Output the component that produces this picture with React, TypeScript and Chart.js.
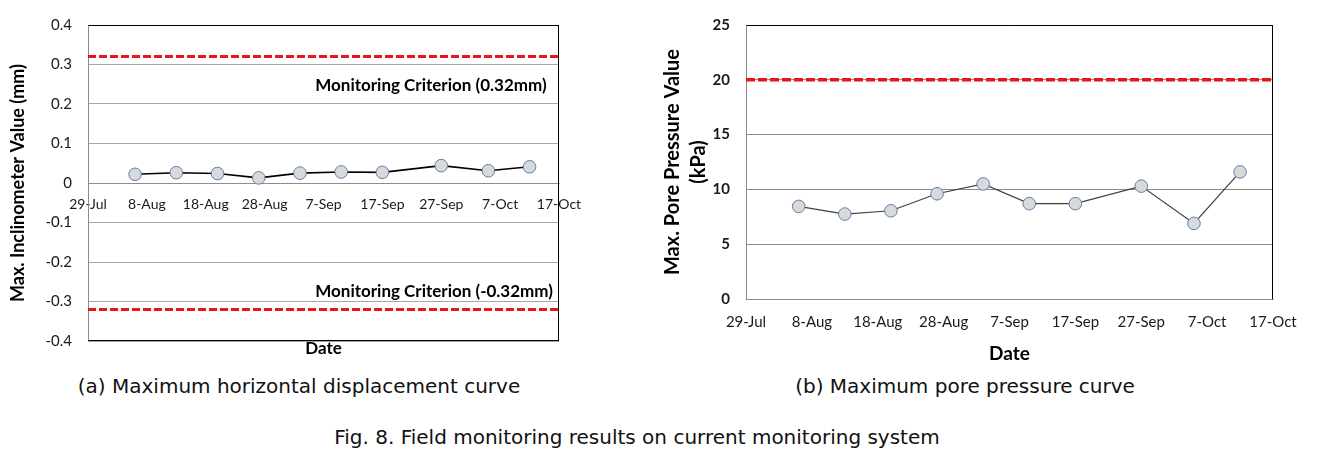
import React, { useEffect, useRef } from 'react';
import { Chart, registerables } from 'chart.js';

Chart.register(...registerables);

// x axis: days counted from 29-Jul, one tick every 10 days
const tickLabels = ['29-Jul', '8-Aug', '18-Aug', '28-Aug', '7-Sep', '17-Sep', '27-Sep', '7-Oct', '17-Oct'];
// measurement days (days after 29-Jul): 6-Aug, 13-Aug, 20-Aug, 27-Aug, 3-Sep, 10-Sep, 17-Sep, 27-Sep, 5-Oct, 12-Oct
const measurementDays = [8, 15, 22, 29, 36, 43, 50, 60, 68, 75];
const inclinometerValues = [0.022, 0.026, 0.024, 0.013, 0.025, 0.028, 0.027, 0.044, 0.031, 0.041];
const porePressureValues = [8.45, 7.75, 8.05, 9.6, 10.5, 8.7, 8.7, 10.3, 6.9, 11.6];
const inclinometerCriteria = [0.32, -0.32];
const porePressureCriteria = [20];
const dayMin = 0;
const dayMax = 80;
const criterionLabels = [
  { text: 'Monitoring Criterion (0.32mm)', day: 38.6, value: 0.248 },
  { text: 'Monitoring Criterion (-0.32mm)', day: 38.6, value: -0.274 },
];

const FONT = 'Lato, "Open Sans", sans-serif';

function makeFramePlugin(edges: string[], color: string) {
  return {
    id: 'frame',
    afterDraw(chart: any) {
      const { ctx, chartArea: a } = chart;
      const L = Math.round(a.left) + 0.5;
      const R = Math.round(a.right) - 0.5;
      const T = Math.round(a.top) + 0.5;
      const B = Math.round(a.bottom) - 0.5;
      ctx.save();
      ctx.strokeStyle = color;
      ctx.lineWidth = 1;
      ctx.beginPath();
      if (edges.includes('top')) { ctx.moveTo(L, T); ctx.lineTo(R + 0.5, T); }
      if (edges.includes('right')) { ctx.moveTo(R, T - 0.5); ctx.lineTo(R, B + 0.5); }
      if (edges.includes('bottom')) { ctx.moveTo(L, B); ctx.lineTo(R + 0.5, B); }
      ctx.stroke();
      ctx.restore();
    },
  };
}

const criterionTextPlugin = {
  id: 'criterionText',
  afterDatasetsDraw(chart: any) {
    const { ctx, scales } = chart;
    ctx.save();
    ctx.font = `bold 17px ${FONT}`;
    ctx.fillStyle = '#000';
    ctx.textAlign = 'left';
    ctx.textBaseline = 'middle';
    criterionLabels.forEach((l) => {
      ctx.fillText(l.text, scales.x.getPixelForValue(l.day), scales.y.getPixelForValue(l.value));
    });
    ctx.restore();
  },
};

const seriesStyle = {
  pointRadius: 6.3,
  pointHoverRadius: 6.3,
  pointBorderWidth: 1,
  pointBackgroundColor: '#d9d9d9',
  pointBorderColor: '#5b7fb0',
  tension: 0,
  fill: false,
};

function criterionDataset(v: number, dash: number[], width: number) {
  return {
    data: [{ x: dayMin, y: v }, { x: dayMax, y: v }],
    borderColor: '#e8141b',
    borderWidth: width,
    borderDash: dash,
    pointRadius: 0,
    fill: false,
  };
}

const dayTick = (v: any) => tickLabels[Math.round(Number(v) / 10)] ?? '';

function LeftChart() {
  const ref = useRef<HTMLCanvasElement | null>(null);
  useEffect(() => {
    if (!ref.current) return;
    const chart = new Chart(ref.current, {
      type: 'line',
      data: {
        datasets: [
          {
            ...seriesStyle,
            data: measurementDays.map((d, i) => ({ x: d, y: inclinometerValues[i] })),
            borderColor: '#000',
            borderWidth: 1.6,
          },
          ...inclinometerCriteria.map((c) => criterionDataset(c, [8, 3], 3)),
        ] as any,
      },
      options: {
        responsive: false,
        animation: false,
        events: [],
        layout: { padding: { top: 20, right: 41, left: 0, bottom: 0 } },
        plugins: { legend: { display: false }, tooltip: { enabled: false } },
        scales: {
          x: {
            type: 'linear',
            min: dayMin,
            max: dayMax,
            position: { y: 0 } as any,
            grid: { display: false, drawTicks: false },
            border: { display: true, color: '#8c8c8c' },
            ticks: {
              stepSize: 10,
              autoSkip: false,
              maxRotation: 0,
              padding: 13.5,
              color: '#1a1a1a',
              font: { family: FONT, size: 14 },
              callback: dayTick,
            },
          },
          x2: {
            type: 'linear',
            axis: 'x',
            min: dayMin,
            max: dayMax,
            position: 'bottom',
            grid: { display: false, drawTicks: false },
            border: { display: false },
            ticks: { display: false },
            title: {
              display: true,
              text: 'Date',
              color: '#000',
              font: { family: FONT, size: 17, weight: 'bold' },
              padding: { top: 0, bottom: 8.8 },
            },
            afterFit: (s: any) => { s.height = 27; },
          } as any,
          y: {
            min: -0.4,
            max: 0.4,
            grid: { color: '#a6a6a6', drawTicks: false },
            border: { color: '#8c8c8c' },
            ticks: {
              stepSize: 0.1,
              padding: 16,
              color: '#1a1a1a',
              font: { family: FONT, size: 15 },
              callback: (v: any) => (Math.abs(Number(v)) < 1e-9 ? '0' : Number(v).toFixed(1)),
            },
            title: {
              display: true,
              text: 'Max. Inclinometer Value (mm)',
              color: '#000',
              font: { family: FONT, size: 18, weight: 'bold' },
              padding: { top: 7.5, bottom: 0 },
            },
            afterFit: (s: any) => { s.width = 88; },
          },
        },
      },
      plugins: [makeFramePlugin(['top', 'right', 'bottom'], '#000'), criterionTextPlugin],
    } as any);
    return () => chart.destroy();
  }, []);
  return <canvas ref={ref} width={600} height={368} style={{ display: 'block' }} />;
}

function RightChart() {
  const ref = useRef<HTMLCanvasElement | null>(null);
  useEffect(() => {
    if (!ref.current) return;
    const chart = new Chart(ref.current, {
      type: 'line',
      data: {
        datasets: [
          {
            ...seriesStyle,
            data: measurementDays.map((d, i) => ({ x: d, y: porePressureValues[i] })),
            borderColor: '#404040',
            borderWidth: 1.2,
          },
          ...porePressureCriteria.map((c) => criterionDataset(c, [9, 3], 3.5)),
        ] as any,
      },
      options: {
        responsive: false,
        animation: false,
        events: [],
        layout: { padding: { top: 20, right: 44, left: 0, bottom: 0 } },
        plugins: { legend: { display: false }, tooltip: { enabled: false } },
        scales: {
          x: {
            type: 'linear',
            min: dayMin,
            max: dayMax,
            position: 'bottom',
            grid: { display: false, drawTicks: false },
            border: { display: true, color: '#8c8c8c' },
            ticks: {
              stepSize: 10,
              autoSkip: false,
              maxRotation: 0,
              padding: 14,
              color: '#1a1a1a',
              font: { family: FONT, size: 15 },
              callback: dayTick,
            },
            title: {
              display: true,
              text: 'Date',
              color: '#000',
              font: { family: FONT, size: 19, weight: 'bold' },
              padding: { top: 0, bottom: 6.5 },
            },
            afterFit: (s: any) => { s.height = 73; },
          },
          y: {
            min: 0,
            max: 25,
            grid: { color: '#8c8c8c', drawTicks: false },
            border: { color: '#8c8c8c' },
            ticks: {
              stepSize: 5,
              padding: 16,
              color: '#1a1a1a',
              font: { family: FONT, size: 15, weight: 'bold' },
            },
            title: {
              display: true,
              text: ['Max. Pore Pressure Value', '(kPa)'],
              color: '#000',
              font: { family: FONT, size: 20, weight: 'bold', lineHeight: '26px' },
              padding: { top: 20, bottom: 0 },
            },
            afterFit: (s: any) => { s.width = 106; },
          },
        },
      },
      plugins: [makeFramePlugin(['top', 'right'], '#000')],
    } as any);
    return () => chart.destroy();
  }, []);
  return <canvas ref={ref} width={677} height={372} style={{ display: 'block' }} />;
}

const captionStyle: React.CSSProperties = {
  position: 'absolute',
  transform: 'translateX(-50%)',
  whiteSpace: 'nowrap',
  fontFamily: '"DejaVu Sans", sans-serif',
  fontSize: 20,
  lineHeight: '24px',
  color: '#111',
};

export default function App() {
  return (
    <div style={{ position: 'absolute', left: 0, top: 0, width: 1317, height: 451, background: '#fff', overflow: 'hidden' }}>
      <div style={{ position: 'absolute', left: 0, top: 0 }}>
        <LeftChart />
      </div>
      <div style={{ position: 'absolute', left: 640, top: 0 }}>
        <RightChart />
      </div>
      <div style={{ ...captionStyle, left: 299, top: 374 }}>(a) Maximum horizontal displacement curve</div>
      <div style={{ ...captionStyle, left: 965, top: 374 }}>(b) Maximum pore pressure curve</div>
      <div style={{ ...captionStyle, left: 637, top: 425 }}>Fig. 8. Field monitoring results on current monitoring system</div>
    </div>
  );
}
